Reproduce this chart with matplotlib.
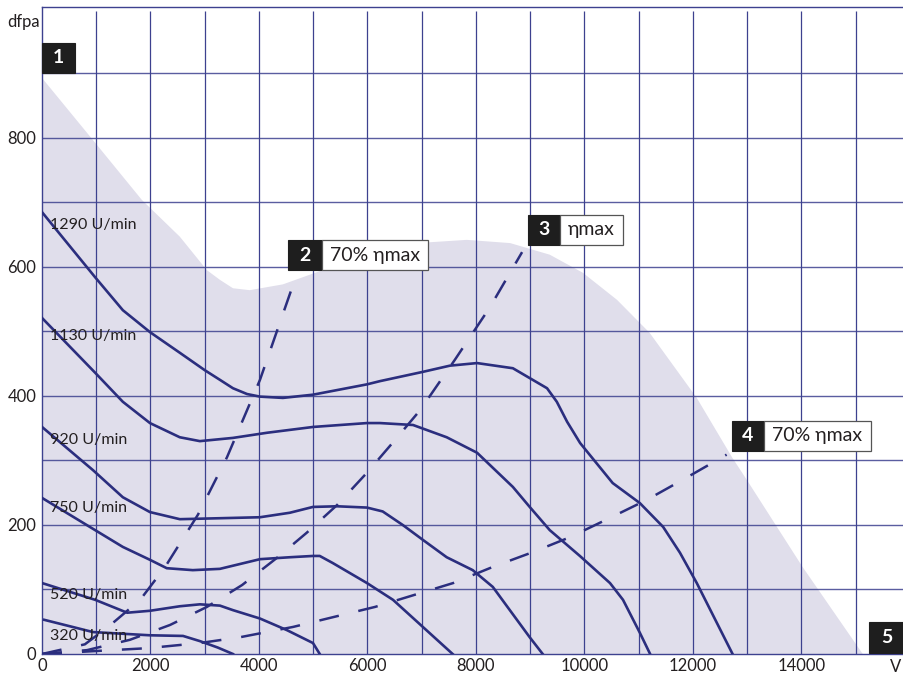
import matplotlib
matplotlib.use("Agg")
import matplotlib.pyplot as plt
from matplotlib.patches import Rectangle, Polygon

plt.rcParams["font.family"] = ["Lato", "DejaVu Sans"]

# fan curves (V, dfpa)
V_1290 = [0, 980, 1490, 1990, 2540, 3000, 3280, 3520, 3780, 4018, 4440, 4995, 5990, 6230, 7000, 7520,
          8020, 8680, 9310, 9490, 9680, 9920, 10520, 11020, 11450, 11760, 12070, 12730]
P_1290 = [685, 584, 533, 499, 467, 440, 425, 412, 403, 399, 397, 402, 418, 423, 437, 447,
          451, 443, 412, 391, 360, 327, 265, 234, 197, 157, 110, 0]
V_1130 = [0, 980, 1490, 1990, 2540, 2910, 3520, 4150, 5000, 5990, 6230, 6840, 7460, 8020, 8680,
          8990, 9360, 9915, 10470, 10710, 11020, 11210]
P_1130 = [521, 436, 391, 358, 336, 330, 335, 343, 352, 358, 358, 355, 336, 312, 259,
          228, 192, 152, 110, 84, 33, 0]
V_920 = [0, 940, 1490, 1990, 2540, 3040, 4018, 4570, 4995, 5440, 5990, 6280, 6650, 7020, 7460,
         7940, 8310, 8990, 9230]
P_920 = [352, 285, 243, 220, 209, 210, 212, 219, 228, 229, 227, 221, 200, 177, 150,
         130, 104, 26, 0]
V_750 = [0, 980, 1490, 1990, 2300, 2780, 3280, 4018, 4570, 4995, 5120, 5360, 5990, 6470, 7020, 7570]
P_750 = [242, 192, 166, 146, 133, 130, 132, 147, 150, 152, 152, 141, 110, 84, 42, 0]
V_520 = [0, 980, 1570, 1990, 2540, 2910, 3280, 3520, 4018, 4515, 4995, 5120]
P_520 = [110, 84, 64, 67, 74, 77, 75, 68, 55, 37, 17, 0]
V_320 = [40, 940, 1990, 2600, 2910, 3240, 3520]
P_320 = [53, 34, 29, 28, 20, 10, 0]

SPEEDS = ["1290 U/min", "1130 U/min", "920 U/min", "750 U/min", "520 U/min", "320 U/min"]
SPEED_LABEL_Y = [665, 493, 332, 226, 91, 28]

# efficiency lines
V_EFF2 = [0, 790, 1220, 1810, 2270, 2875, 3410, 4018, 4660]
P_EFF2 = [0, 15, 42, 84, 135, 216, 305, 425, 580]
V_EFF3 = [0, 830, 1620, 2360, 3040, 3690, 4330, 4880, 5440, 5990, 6510, 6970, 7610, 8260, 8850]
P_EFF3 = [0, 6, 22, 45, 73, 107, 149, 188, 231, 281, 332, 378, 456, 538, 623]
V_EFF4 = [0, 1940, 2910, 3650, 4630, 5360, 6140, 6840, 7580, 8310, 9050, 9730, 10470, 11150, 11810, 12620]
P_EFF4 = [0, 9, 17, 26, 42, 57, 73, 91, 110, 135, 158, 181, 211, 239, 270, 309]

# working range (shaded)
V_RANGE = [0, 995, 1840, 2540, 3040, 3280, 3520, 3830, 4440, 5070, 5990, 6910, 7830, 8630, 9360,
           9970, 10600, 11200, 12070, 12720, 13030, 14020, 15130]
P_RANGE = [893, 791, 704, 647, 595, 580, 567, 564, 573, 592, 622, 637, 642, 637, 619,
           591, 549, 498, 397, 305, 265, 135, 0]

X_TICKS = [0, 2000, 4000, 6000, 8000, 10000, 12000, 14000]
Y_TICKS = [0, 200, 400, 600, 800]

NAVY = "#2b2e7e"
GRID = "#3d418f"
SHADE = "#e0deeb"
INK = "#231f20"

fig = plt.figure(figsize=(9.04, 6.77), dpi=100)
ax = fig.add_axes([42 / 904, 23 / 677, 862 / 904, 647 / 677])
ax.set_xlim(0, 15890)
ax.set_ylim(0, 1003)

ax.add_patch(Polygon(list(zip(V_RANGE, P_RANGE)) + [(0, 0)], closed=True,
                     facecolor=SHADE, edgecolor="none", zorder=0))

ax.vlines(range(1000, 16000, 1000), 0, 997, color=GRID, lw=0.9, zorder=1)
ax.hlines(range(100, 1000, 100), 0, 15890, color=GRID, lw=1.0, alpha=0.85, zorder=1)

for v, p in [(V_1290, P_1290), (V_1130, P_1130), (V_920, P_920),
             (V_750, P_750), (V_520, P_520), (V_320, P_320)]:
    ax.plot(v, p, color=NAVY, lw=1.9, solid_joinstyle="round", zorder=3)

for v, p in [(V_EFF2, P_EFF2), (V_EFF3, P_EFF3), (V_EFF4, P_EFF4)]:
    ax.plot(v, p, color=NAVY, lw=1.8, dashes=(8, 8), zorder=3)

for name, y in zip(SPEEDS, SPEED_LABEL_Y):
    ax.text(150, y, name, fontsize=11.5, color=INK, va="center", ha="left", zorder=4)


def tag(x0, x1, x2, y0, y1, num, label=None):
    ax.add_patch(Rectangle((x0, y0), x1 - x0, y1 - y0, facecolor="#1e1e1e",
                           edgecolor="#1e1e1e", lw=0.8, clip_on=False, zorder=5))
    ax.text((x0 + x1) / 2, (y0 + y1) / 2, num, color="white", fontsize=14,
            fontweight="bold", ha="center", va="center", zorder=6, clip_on=False)
    if label:
        ax.add_patch(Rectangle((x1, y0), x2 - x1, y1 - y0, facecolor="white",
                               edgecolor="#555555", lw=0.9, clip_on=False, zorder=5))
        ax.text((x1 + x2) / 2, (y0 + y1) / 2, label, color=INK, fontsize=14,
                ha="center", va="center", zorder=6)


tag(0, 610, None, 901, 947, "1")
tag(4530, 5160, 7110, 595, 642, "2", "70% ηmax")
tag(8960, 9550, 10710, 634, 681, "3", "ηmax")
tag(12720, 13310, 15280, 315, 361, "4", "70% ηmax")
tag(15240, 15890, None, 1, 50, "5")

ax.set_xticks(X_TICKS)
ax.set_xticklabels([str(t) for t in X_TICKS])
ax.set_yticks(Y_TICKS)
ax.set_yticklabels([str(t) for t in Y_TICKS])
ax.tick_params(length=0, labelsize=12, labelcolor=INK)
ax.tick_params(axis="x", pad=3)
ax.tick_params(axis="y", pad=4)

for side in ["left", "bottom", "top"]:
    ax.spines[side].set_color(GRID)
    ax.spines[side].set_linewidth(1.0)
ax.spines["right"].set_visible(False)

fig.text(24 / 904, 1 - 22 / 677, "dfpa", fontsize=12, color=INK, ha="center", va="center")
fig.text(896 / 904, 1 - 667 / 677, "V", fontsize=12, color=INK, ha="center", va="center")

fig.savefig("out.png", dpi=100)
